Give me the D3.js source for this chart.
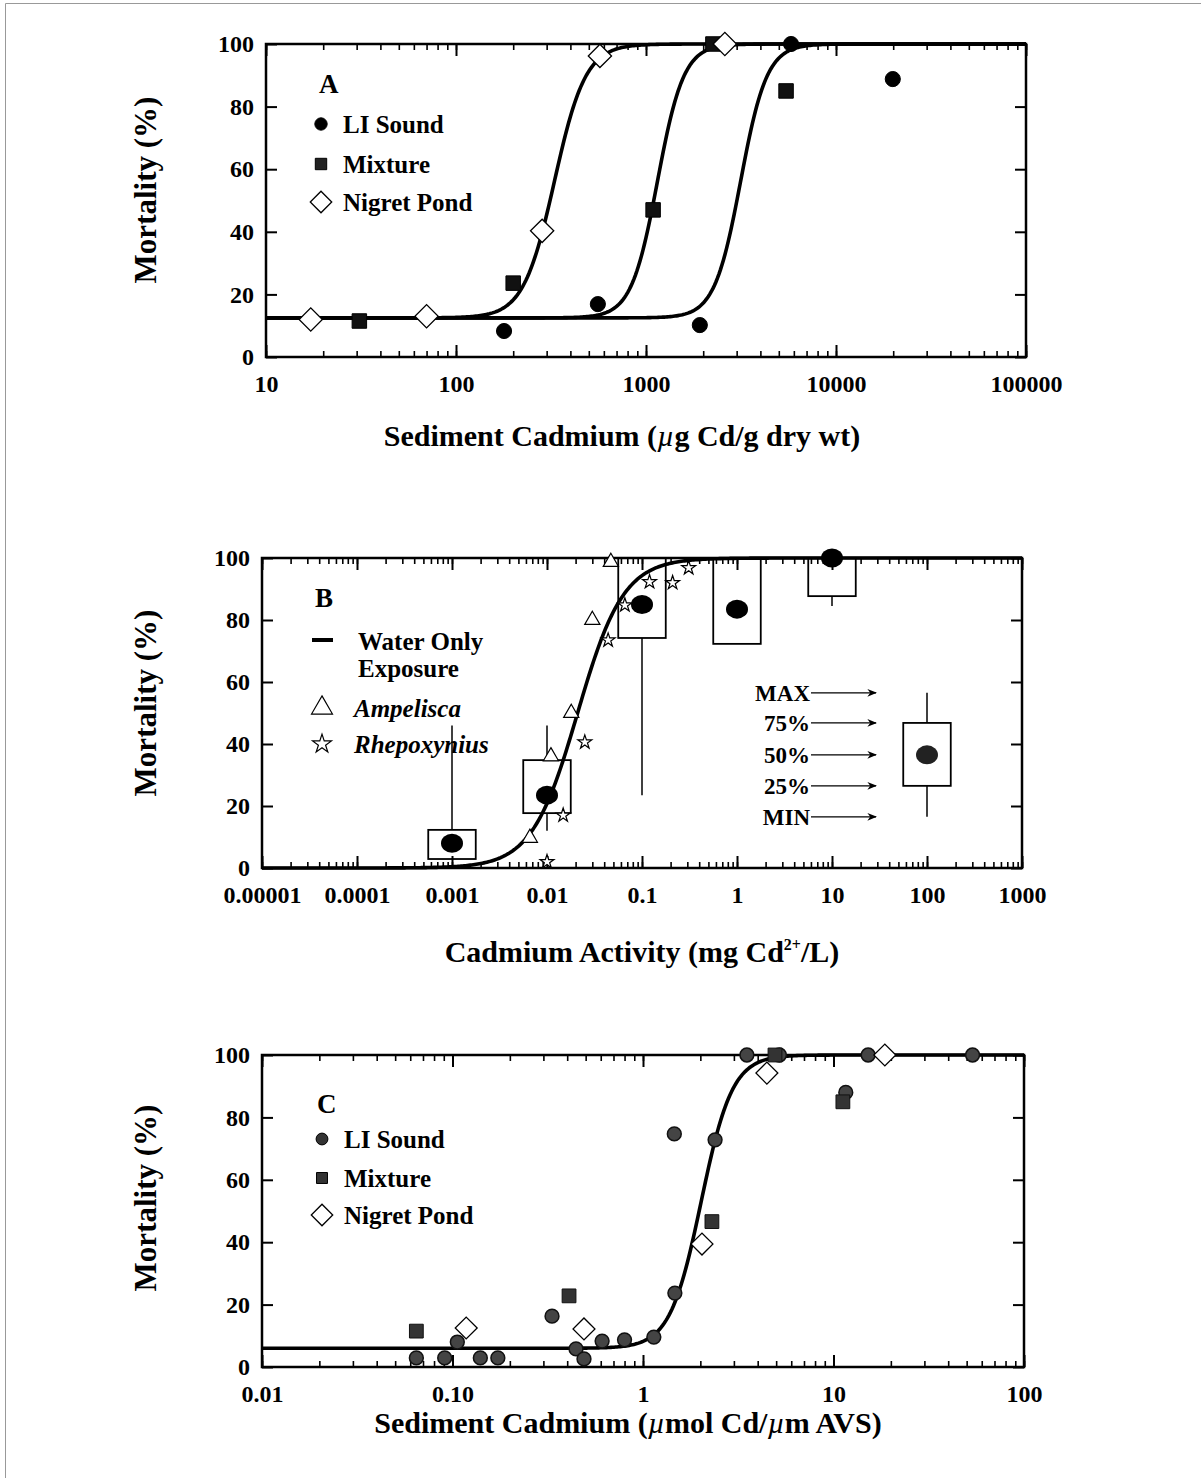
<!DOCTYPE html>
<html>
<head>
<meta charset="utf-8">
<script src="https://cdn.jsdelivr.net/npm/d3@7"></script>
<style>
body { margin: 0; background: #fff; }
svg text { font-family: "Liberation Serif", "Times New Roman", serif; font-weight: bold; fill: #000; }
</style>
</head>
<body>
<div id="chart"></div>
<script>
// ---- panel A : mortality vs sediment cadmium (ug/g)
var aTicks   = [10, 100, 1000, 10000, 100000];
var aLabels  = ['10', '100', '1000', '10000', '100000'];
var aLISoundX = [179, 558, 1920, 5800, 19900];
var aLISoundY = [8.3, 16.9, 10.2, 100, 88.8];
var aMixtureX = [31, 200, 1090, 2250, 5460];
var aMixtureY = [11.5, 23.6, 47, 100, 85];
var aNigretX  = [17.2, 70, 284, 572, 2600];
var aNigretY  = [12, 13, 40.3, 96.2, 100];
// fitted curves: LI Sound, Mixture, Nigret Pond
var aFitEC50  = [3150, 1150, 330];
var aFitSlope = [6.3, 6.3, 5.3];
var aFitBase  = 12.5;

// ---- panel B : mortality vs cadmium activity
var bTicks  = [0.00001, 0.0001, 0.001, 0.01, 0.1, 1, 10, 100, 1000];
var bLabels = ['0.00001', '0.0001', '0.001', '0.01', '0.1', '1', '10', '100', '1000'];
var bBoxX   = [0.001, 0.01, 0.1, 1, 10];
var bBoxMin = [2.9, 12, 23.5, 72.3, 84.5];
var bBoxQ1  = [2.9, 17.7, 74.2, 72.3, 87.7];
var bBoxMed = [8, 23.5, 85, 83.5, 100];
var bBoxQ3  = [12.3, 34.8, 100, 100, 100];
var bBoxMax = [46, 46, 100, 100, 100];
var bKeyX   = 100;
var bKeyVal = [56.5, 46.8, 36.5, 26.5, 16.5];   // max, 75%, 50%, 25%, min
var bKeyLbl = ['MAX', '75%', '50%', '25%', 'MIN'];
var bAmpelX = [0.0066, 0.011, 0.018, 0.030, 0.047];
var bAmpelY = [9.7, 36, 50, 80, 98.7];
var bRhepX  = [0.010, 0.0148, 0.025, 0.044, 0.066, 0.12, 0.21, 0.31];
var bRhepY  = [2, 17, 40.6, 73.5, 84.8, 92.3, 92, 96.8];
var bFitEC50 = 0.021, bFitSlope = 1.8;

// ---- panel C : mortality vs SEM/AVS
var cTicks  = [0.01, 0.1, 1, 10, 100];
var cLabels = ['0.01', '0.10', '1', '10', '100'];
var cLISoundX = [0.0646, 0.091, 0.106, 0.14, 0.173, 0.333, 0.445, 0.49, 0.61, 0.80, 1.14, 1.47, 1.46, 2.39, 3.51, 5.2, 11.6, 15.2, 53.7];
var cLISoundY = [2.9, 2.9, 8, 2.9, 2.9, 16.3, 5.8, 2.6, 8.3, 8.7, 9.6, 23.7, 74.7, 72.8, 100, 100, 88, 100, 100];
var cMixtureX = [0.0646, 0.409, 2.30, 4.93, 11.2];
var cMixtureY = [11.5, 22.8, 46.6, 100, 85];
var cNigretX  = [0.118, 0.49, 2.04, 4.47, 18.6];
var cNigretY  = [12.5, 12.2, 39.4, 94.2, 100];
var cFitEC50 = 2.02, cFitSlope = 5.3, cFitBase = 6;

var yTicks = [0, 20, 40, 60, 80, 100];

var svg = d3.select('#chart').append('svg')
    .attr('width', 1201)
    .attr('height', 1478);

// thin page border (top + left)
svg.append('path')
    .attr('d', 'M5.5,1478V3.5H1201')
    .attr('fill', 'none')
    .attr('stroke', '#999')
    .attr('stroke-width', 1);

function makePanel(left, top, right, bottom, domain) {
    var g = svg.append('g').attr('transform', 'translate(' + left + ',' + top + ')');
    return {
        g: g,
        w: right - left,
        h: bottom - top,
        x: d3.scaleLog().domain(domain).range([0, right - left]),
        y: d3.scaleLinear().domain([0, 100]).range([bottom - top, 0])
    };
}

function drawAxes(p, majors, labels) {
    var g = p.g, x = p.x, y = p.y;
    var minors = x.ticks(20);
    function clean(sel) {
        sel.select('.domain').remove();
        sel.selectAll('line').attr('stroke', '#000');
    }
    // minor ticks bottom / top
    g.append('g').attr('transform', 'translate(0,' + p.h + ')')
        .call(d3.axisBottom(x).tickValues(minors).tickSize(-6).tickFormat(''))
        .call(clean).selectAll('line').attr('stroke-width', 1.6);
    g.append('g')
        .call(d3.axisTop(x).tickValues(minors).tickSize(-6).tickFormat(''))
        .call(clean).selectAll('line').attr('stroke-width', 1.6);
    // major ticks with labels
    var bx = g.append('g').attr('transform', 'translate(0,' + p.h + ')')
        .call(d3.axisBottom(x).tickValues(majors).tickSize(-12).tickPadding(18)
            .tickFormat(function(d, i) { return labels[i]; }))
        .call(clean);
    bx.selectAll('line').attr('stroke-width', 2);
    bx.selectAll('text').attr('font-size', 24).attr('font-family', null);
    g.append('g')
        .call(d3.axisTop(x).tickValues(majors).tickSize(-12).tickFormat(''))
        .call(clean).selectAll('line').attr('stroke-width', 2);
    // y axes
    var ly = g.append('g')
        .call(d3.axisLeft(y).tickValues(yTicks).tickSize(-11).tickPadding(12))
        .call(clean);
    ly.selectAll('line').attr('stroke-width', 2);
    ly.selectAll('text').attr('font-size', 24).attr('font-family', null);
    g.append('g').attr('transform', 'translate(' + p.w + ',0)')
        .call(d3.axisRight(y).tickValues(yTicks).tickSize(-11).tickFormat(''))
        .call(clean).selectAll('line').attr('stroke-width', 2);
    // frame
    g.append('rect')
        .attr('width', p.w).attr('height', p.h)
        .attr('fill', 'none').attr('stroke', '#000').attr('stroke-width', 2.5);
}

function fitCurve(p, base, ec50, slope) {
    var d = p.x.domain();
    var lo = Math.log10(d[0]), hi = Math.log10(d[1]);
    var pts = d3.range(0, 501).map(function(i) {
        var xv = Math.pow(10, lo + (hi - lo) * i / 500);
        return [xv, base + (100 - base) / (1 + Math.pow(ec50 / xv, slope))];
    });
    p.g.append('path')
        .datum(pts)
        .attr('fill', 'none')
        .attr('stroke', '#000')
        .attr('stroke-width', 3.6)
        .attr('d', d3.line().x(function(d) { return p.x(d[0]); }).y(function(d) { return p.y(d[1]); }));
}

function points(p, xs, ys, type, size, fill, stroke, sw, rot) {
    p.g.append('g').selectAll('path')
        .data(xs.map(function(v, i) { return [v, ys[i]]; }))
        .enter().append('path')
        .attr('d', d3.symbol().type(type).size(size))
        .attr('transform', function(d) {
            return 'translate(' + p.x(d[0]) + ',' + p.y(d[1]) + ')' + (rot ? ' rotate(' + rot + ')' : '');
        })
        .attr('fill', fill)
        .attr('stroke', stroke)
        .attr('stroke-width', sw);
}

function yTitle(cy) {
    svg.append('text')
        .attr('transform', 'translate(145,' + cy + ') rotate(-90)')
        .attr('text-anchor', 'middle')
        .attr('dy', '0.35em')
        .attr('font-size', 31)
        .text('Mortality (%)');
}

function xTitle(cx, by, parts) {
    var t = svg.append('text').attr('x', cx).attr('y', by)
        .attr('text-anchor', 'middle').attr('font-size', 30);
    parts.forEach(function(pt) {
        var s = t.append('tspan').text(pt.t);
        if (pt.it) s.attr('font-style', 'italic').attr('font-weight', 'normal');
        if (pt.sup) s.attr('font-size', 16).attr('baseline-shift', '12');
    });
}

function legendMarks(g, x0, xt, rows, items) {
    items.forEach(function(it, i) {
        g.append('path')
            .attr('d', d3.symbol().type(it.type).size(it.size))
            .attr('transform', 'translate(' + x0 + ',' + rows[i] + ')' + (it.rot ? ' rotate(45)' : ''))
            .attr('fill', it.fill).attr('stroke', it.stroke).attr('stroke-width', it.sw);
        g.append('text')
            .attr('x', xt).attr('y', rows[i] + 9)
            .attr('font-size', 25)
            .attr('font-style', it.it ? 'italic' : null)
            .attr('font-weight', it.it ? 'normal' : null)
            .text(it.label);
    });
}

// ================= Panel A
var pA = makePanel(266, 44, 1026, 357, [10, 100000]);
drawAxes(pA, aTicks, aLabels);
aFitEC50.forEach(function(ec, i) { fitCurve(pA, aFitBase, ec, aFitSlope[i]); });
points(pA, aLISoundX, aLISoundY, d3.symbolCircle, 180, '#000', '#000', 1);
points(pA, aMixtureX, aMixtureY, d3.symbolSquare, 210, '#111', '#000', 1);
points(pA, aNigretX, aNigretY, d3.symbolSquare, 270, '#fff', '#000', 1.3, 45);
pA.g.append('text').attr('x', 53).attr('y', 49).attr('font-size', 27).text('A');
legendMarks(pA.g, 55, 77, [80, 120, 158], [
    {type: d3.symbolCircle, size: 120, fill: '#000', stroke: '#000', sw: 1, label: 'LI Sound'},
    {type: d3.symbolSquare, size: 130, fill: '#222', stroke: '#000', sw: 1, label: 'Mixture'},
    {type: d3.symbolSquare, size: 230, fill: '#fff', stroke: '#000', sw: 1.3, rot: true, label: 'Nigret Pond'}
]);
yTitle(190);
xTitle(622, 446, [{t: 'Sediment Cadmium ('}, {t: 'µ', it: true}, {t: 'g Cd/g dry wt)'}]);

// ================= Panel B
var pB = makePanel(262, 558, 1022, 868, [0.00001, 1000]);
drawAxes(pB, bTicks, bLabels);
var half = Math.pow(10, 0.25);
function boxPlot(g, xv, mn, q1, md, q3, mx, dotFill) {
    var x0 = pB.x(xv / half), x1 = pB.x(xv * half), xc = pB.x(xv), y = pB.y;
    g.append('line').attr('x1', xc).attr('x2', xc).attr('y1', y(mx)).attr('y2', y(q3))
        .attr('stroke', '#000').attr('stroke-width', 1.5);
    g.append('line').attr('x1', xc).attr('x2', xc).attr('y1', y(q1)).attr('y2', y(mn))
        .attr('stroke', '#000').attr('stroke-width', 1.5);
    g.append('rect').attr('x', x0).attr('y', y(q3)).attr('width', x1 - x0).attr('height', y(q1) - y(q3))
        .attr('fill', 'none').attr('stroke', '#000').attr('stroke-width', 1.8);
    g.append('ellipse').attr('cx', xc).attr('cy', y(md)).attr('rx', 11).attr('ry', 9.5)
        .attr('fill', dotFill);
}
var boxes = pB.g.append('g');
bBoxX.forEach(function(v, i) {
    boxPlot(boxes, v, bBoxMin[i], bBoxQ1[i], bBoxMed[i], bBoxQ3[i], bBoxMax[i], '#000');
});
boxPlot(boxes, bKeyX, bKeyVal[4], bKeyVal[3], bKeyVal[2], bKeyVal[1], bKeyVal[0], '#222');
fitCurve(pB, 0, bFitEC50, bFitSlope);
points(pB, bAmpelX, bAmpelY, d3.symbolTriangle, 100, '#fff', '#000', 1.2);
points(pB, bRhepX, bRhepY, d3.symbolStar, 60, '#fff', '#000', 1.2);

// box legend arrows
var defs = svg.append('defs');
defs.append('marker').attr('id', 'arr')
    .attr('viewBox', '0 0 10 10').attr('refX', 9).attr('refY', 5)
    .attr('markerWidth', 8).attr('markerHeight', 8).attr('orient', 'auto')
    .append('path').attr('d', 'M0,1L10,5L0,9L3,5Z').attr('fill', '#000');
bKeyLbl.forEach(function(l, i) {
    var yy = pB.y(bKeyVal[i]);
    pB.g.append('text').attr('x', 548).attr('y', yy + 8)
        .attr('text-anchor', 'end').attr('font-size', 23).text(l);
    pB.g.append('line').attr('x1', 549).attr('x2', 614).attr('y1', yy).attr('y2', yy)
        .attr('stroke', '#000').attr('stroke-width', 1.2).attr('marker-end', 'url(#arr)');
});

pB.g.append('text').attr('x', 53).attr('y', 49).attr('font-size', 27).text('B');
pB.g.append('line').attr('x1', 50).attr('x2', 71).attr('y1', 82).attr('y2', 82)
    .attr('stroke', '#000').attr('stroke-width', 4);
pB.g.append('text').attr('x', 96).attr('y', 92).attr('font-size', 25).text('Water Only');
pB.g.append('text').attr('x', 96).attr('y', 119).attr('font-size', 25).text('Exposure');
legendMarks(pB.g, 60, 92, [150, 186], [
    {type: d3.symbolTriangle, size: 190, fill: '#fff', stroke: '#000', sw: 1.2, it: true, label: 'Ampelisca'},
    {type: d3.symbolStar, size: 110, fill: '#fff', stroke: '#000', sw: 1.2, it: true, label: 'Rhepoxynius'}
]);
yTitle(703);
xTitle(642, 962, [{t: 'Cadmium Activity (mg Cd'}, {t: '2+', sup: true}, {t: '/L)'}]);

// ================= Panel C
var pC = makePanel(262, 1055, 1024, 1367, [0.01, 100]);
drawAxes(pC, cTicks, cLabels);
fitCurve(pC, cFitBase, cFitEC50, cFitSlope);
points(pC, cLISoundX, cLISoundY, d3.symbolCircle, 150, '#444', '#111', 1.5);
points(pC, cMixtureX, cMixtureY, d3.symbolSquare, 190, '#333', '#111', 1);
points(pC, cNigretX, cNigretY, d3.symbolSquare, 240, '#fff', '#000', 1.3, 45);
pC.g.append('text').attr('x', 55).attr('y', 58).attr('font-size', 27).text('C');
legendMarks(pC.g, 60, 82, [84, 123, 160], [
    {type: d3.symbolCircle, size: 110, fill: '#333', stroke: '#000', sw: 1, label: 'LI Sound'},
    {type: d3.symbolSquare, size: 120, fill: '#333', stroke: '#000', sw: 1, label: 'Mixture'},
    {type: d3.symbolSquare, size: 230, fill: '#fff', stroke: '#000', sw: 1.3, rot: true, label: 'Nigret Pond'}
]);
yTitle(1198);
xTitle(628, 1433, [{t: 'Sediment Cadmium ('}, {t: 'µ', it: true}, {t: 'mol Cd/'}, {t: 'µ', it: true}, {t: 'm AVS)'}]);
</script>
</body>
</html>
